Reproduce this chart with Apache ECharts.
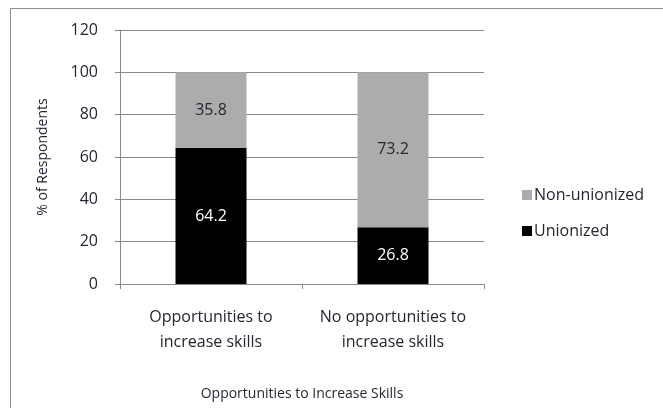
<!DOCTYPE html>
<html>
<head>
<meta charset="utf-8">
<script src="https://cdn.jsdelivr.net/npm/echarts@6/dist/echarts.min.js"></script>
<style>
  html, body { margin: 0; padding: 0; background: #fff; }
  #chart { width: 663px; height: 408px; }
</style>
</head>
<body>
<div id="chart"></div>
<script>
// Share of respondents by union status, split by access to skill-building opportunities
const categories = ['Opportunities to\nincrease skills', 'No opportunities to\nincrease skills'];
const unionized = [64.2, 26.8];
const nonUnionized = [35.8, 73.2];
const yTicks = { min: 0, max: 120, interval: 20 };

const FONT = '"Open Sans", "DejaVu Sans", sans-serif';
const TEXT = '#262633';

const chart = echarts.init(document.getElementById('chart'), null, { renderer: 'canvas' });
chart.setOption({
  animation: false,
  backgroundColor: '#fff',
  textStyle: { fontFamily: FONT },
  graphic: [{
    type: 'rect',
    shape: { x: 10.5, y: 8.5, width: 700, height: 500 },
    style: { fill: 'none', stroke: '#8c8c8c', lineWidth: 1 },
    silent: true
  }],
  grid: { left: 120, top: 30, width: 364, height: 254 },
  legend: {
    orient: 'vertical',
    left: 517,
    top: 182,
    itemWidth: 10,
    itemHeight: 10,
    itemGap: 20,
    icon: 'rect',
    data: ['Non-unionized', 'Unionized'],
    textStyle: { fontFamily: FONT, fontSize: 16, color: TEXT, padding: [0, 0, 0, -3] }
  },
  xAxis: {
    type: 'category',
    data: categories,
    name: 'Opportunities to Increase Skills',
    nameLocation: 'middle',
    nameGap: 103,
    nameTextStyle: { fontFamily: FONT, fontSize: 14, color: TEXT },
    axisLine: { lineStyle: { color: '#888', width: 1 } },
    axisTick: { show: true, length: 5, alignWithLabel: false, lineStyle: { color: '#888' } },
    axisLabel: { interval: 0, fontFamily: FONT, fontSize: 16, color: TEXT, lineHeight: 25, margin: 21 }
  },
  yAxis: {
    type: 'value',
    min: yTicks.min,
    max: yTicks.max,
    interval: yTicks.interval,
    name: '% of Respondents',
    nameLocation: 'middle',
    nameGap: 70,
    nameRotate: 90,
    nameTextStyle: { fontFamily: FONT, fontSize: 14, color: TEXT },
    axisLine: { show: true, lineStyle: { color: '#888', width: 1 } },
    axisTick: { show: true, length: 5, lineStyle: { color: '#888' } },
    axisLabel: { fontFamily: FONT, fontSize: 16, color: TEXT, margin: 22 },
    splitLine: { show: true, lineStyle: { color: '#888', width: 1 } }
  },
  series: [
    {
      name: 'Unionized',
      type: 'bar',
      stack: 'total',
      data: unionized,
      barWidth: 71,
      itemStyle: { color: '#000' },
      label: { show: true, position: 'inside', color: '#fff', fontFamily: FONT, fontSize: 16 }
    },
    {
      name: 'Non-unionized',
      type: 'bar',
      stack: 'total',
      data: nonUnionized,
      barWidth: 71,
      itemStyle: { color: '#acacac' },
      label: { show: true, position: 'inside', color: TEXT, fontFamily: FONT, fontSize: 16 }
    }
  ]
});
</script>
</body>
</html>
